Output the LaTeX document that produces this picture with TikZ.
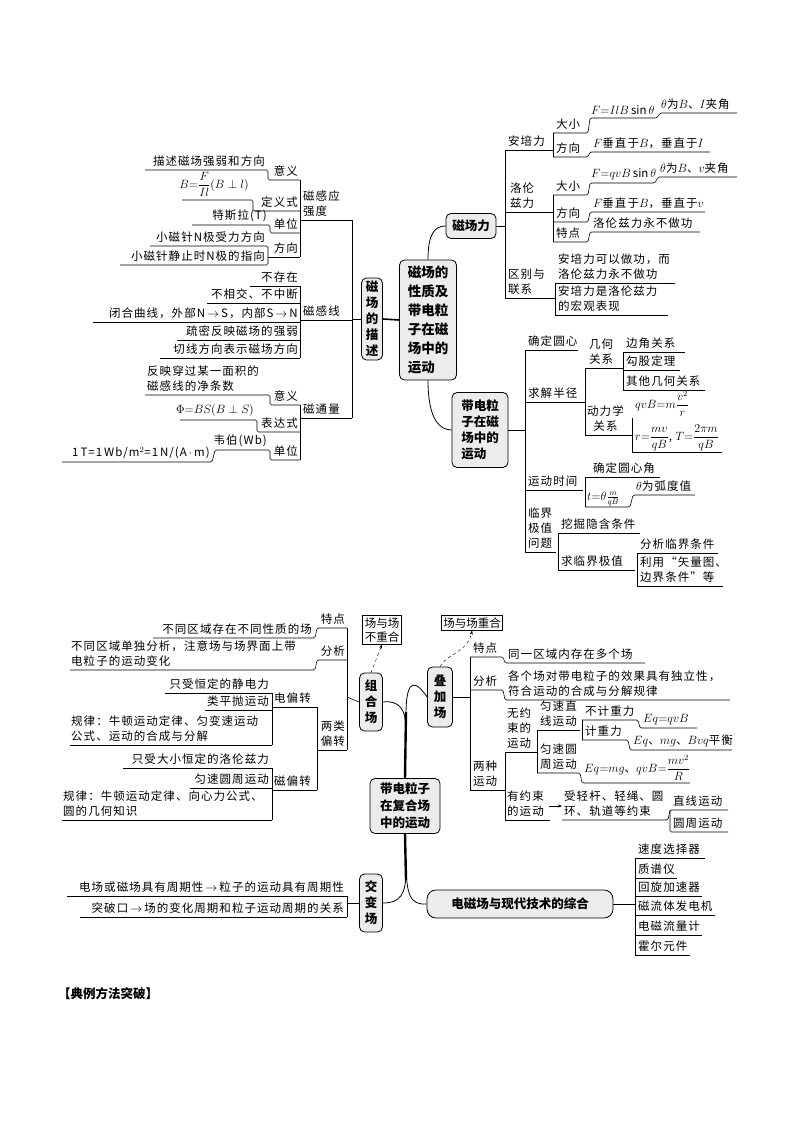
\documentclass[tikz,border=0pt]{standalone}
\usepackage{amsmath, amssymb}
\usepackage{fontspec}
\setmainfont{Noto Sans CJK SC}
\newfontfamily\lfont[LetterSpace=9]{Noto Sans CJK SC}
\usepackage{tikz}
\usetikzlibrary{calc,arrows.meta}

\begin{document}
\begin{tikzpicture}[x=1pt,y=-1pt,
  ln/.style={line width=0.6pt, rounded corners=1.5pt},
  lf/.style={inner sep=1pt, font=\lfont\fontsize{11.5}{15}\selectfont},
  lr/.style={lf, anchor=south east, align=right},
  ll/.style={lf, anchor=south west, align=left},
  box/.style={draw, rounded corners=5pt, fill=gray!15, line width=0.8pt, align=center,
    inner sep=2pt, font=\bfseries\fontsize{12.5}{16}\selectfont},
  plain/.style={draw, line width=0.6pt, align=center, inner sep=2pt, font=\fontsize{11.5}{14}\selectfont}]
\def\cLine{black}
\useasboundingbox (0,0) rectangle (794,1123);
\fill[white] (0,0) rectangle (794,1123);

% ---- main node and its two sides
\node[box, minimum width=57pt, minimum height=120pt, align=left, font=\bfseries\fontsize{13.5}{19}\selectfont] (main) at (428,320) {磁场的\\性质及\\带电粒\\子在磁\\场中的\\运动};
\node[box, minimum width=21pt, minimum height=82pt] (desc) at (372,319) {磁\\场\\的\\描\\述};
\node[box, minimum width=50pt, minimum height=25pt] (force) at (471,226) {磁场力};
\node[box, minimum width=56pt, minimum height=75pt, align=left] (move) at (480,430) {带电粒\\子在磁\\场中的\\运动};
\draw[line width=1.6pt] (desc.east) -- (main.west);
\draw[line width=0.8pt] (main.north) ++(0,0) .. controls (428,235) and (434,226) .. (force.west);
\draw[line width=0.8pt] (main.south) .. controls (428,420) and (440,430) .. (move.west);

% ---- magnetic field description (left)
\draw[ln] (desc.west) -- (352,319);
\draw[ln] (352,220) -- (352,418);
\draw[ln] (300,220) -- (352,220);
\draw[ln] (300,320) -- (352,320);
\draw[ln] (300,418) -- (352,418);
\node[ll, align=left] (bB) at (302,218) {磁感应\\强度};
\node[ll] (bL) at (302,318) {磁感线};
\node[ll] (bF) at (302,416) {磁通量};
% B
\draw[ln] (300,180) -- (300,257);
\draw[ln] (145,170) -- (268,170) -- (268,180) -- (300,180);
\node[lr] at (266,168) {描述磁场强弱和方向};
\node[lr] at (299,178) {意义};
\draw[ln] (182,200) -- (253,200) -- (253,211) -- (300,211);
\node[lr] at (250,198) {$B{=}\dfrac{F}{Il}(B\perp l)$};
\node[lr] at (299,209) {定义式};
\draw[ln] (192,225) -- (270,225) -- (270,233) -- (300,233);
\node[lr] at (268,223) {特斯拉(T)};
\node[lr] at (299,231) {单位};
\draw[ln] (150,246) -- (268,246) -- (268,265) -- (120,265);
\draw[ln] (268,257) -- (300,257);
\node[lr] at (266,244) {小磁针N极受力方向};
\node[lr] at (266,263) {小磁针静止时N极的指向};
\node[lr] at (299,255) {方向};
% lines
\draw[ln] (300,286) -- (300,358);
\draw[ln] (250,286) -- (300,286);
\node[lr] at (299,284) {不存在};
\draw[ln] (207,303) -- (300,303);
\node[lr] at (299,301) {不相交、不中断};
\draw[ln] (93,322) -- (300,322);
\node[lr] at (299,320) {闭合曲线，外部N$\,\to\,$S，内部S$\,\to\,$N};
\draw[ln] (177,340) -- (300,340);
\node[lr] at (299,338) {疏密反映磁场的强弱};
\draw[ln] (160,358) -- (300,358);
\node[lr] at (299,356) {切线方向表示磁场方向};
% flux
\draw[ln] (300,405) -- (300,460);
\draw[ln] (145,395) -- (270,395) -- (270,405) -- (300,405);
\node[ll] at (146,393) {反映穿过某一面积的\\磁感线的净条数};
\node[lr] at (299,403) {意义};
\draw[ln] (180,420) -- (257,420) -- (257,432) -- (300,432);
\node[lr] at (255,418) {$\Phi{=}BS(B\perp S)$};
\node[lr] at (299,430) {表达式};
\draw[ln] (62,462) -- (212,462) -- (215,450) -- (270,450) -- (270,460) -- (300,460);
\node[lr] at (268,448) {韦伯(Wb)};
\node[lr] at (211,460) {1\,T=1\,Wb/m$^2$=1\,N/(A$\,\cdot\,$m)};
\node[lr] at (299,458) {单位};

% ---- magnetic force (right top)
\draw[ln] (force.east) -- (505,226);
\draw[ln] (505,150) -- (505,298);
\draw[ln] (505,150) -- (553,150);
\node[ll] at (507,148) {安培力};
\draw[ln] (553,133) -- (553,157);
\draw[ln] (553,133) -- (588,133) -- (590,118) -- (657,118) -- (660,113) -- (737,113);
\node[ll] at (555,131) {大小};
\node[ll] at (590,116) {$F{=}IlB\sin\theta$};
\node[ll] at (660,111) {$\theta$为$B$、$I$夹角};
\draw[ln] (553,157) -- (588,157) -- (590,152) -- (710,152);
\node[ll] at (555,155) {方向};
\node[ll] at (592,150) {$F$垂直于$B$，垂直于$I$};
\draw[ln] (505,212) -- (553,212);
\node[ll, align=center] at (509,210) {洛伦\\兹力};
\draw[ln] (553,195) -- (553,242);
\draw[ln] (553,195) -- (588,195) -- (590,183) -- (655,183) -- (658,177) -- (737,177);
\node[ll] at (555,193) {大小};
\node[ll] at (590,181) {$F{=}qvB\sin\theta$};
\node[ll] at (659,175) {$\theta$为$B$、$v$夹角};
\draw[ln] (553,222) -- (588,222) -- (590,212) -- (705,212);
\node[ll] at (555,220) {方向};
\node[ll] at (592,210) {$F$垂直于$B$，垂直于$v$};
\draw[ln] (553,242) -- (588,242) -- (590,232) -- (700,232);
\node[ll] at (555,240) {特点};
\node[ll] at (592,230) {洛伦兹力永不做功};
\draw[ln] (505,298) -- (555,298);
\node[ll] at (507,296) {区别与\\联系};
\draw[ln] (555,283) -- (555,315);
\draw[ln] (555,283) -- (675,283);
\draw[ln] (555,315) -- (668,315);
\node[ll] at (557,281) {安培力可以做功，而\\洛伦兹力永不做功};
\node[ll] at (557,313) {安培力是洛伦兹力\\的宏观表现};

% ---- motion in field (right bottom)
\draw[ln] (move.east) -- (525,430);
\draw[ln] (525,350) -- (525,552);
\draw[ln] (525,350) -- (578,350);
\node[ll] at (527,348) {确定圆心};
\draw[ln] (525,402) -- (585,402);
\node[ll] at (527,400) {求解半径};
\draw[ln] (585,368) -- (585,435);
\draw[ln] (585,368) -- (623,368);
\node[ll, align=center] at (588,366) {几何\\关系};
\draw[ln] (623,352) -- (623,390);
\draw[ln] (623,352) -- (685,352);
\node[ll] at (625,350) {边角关系};
\draw[ln] (623,370) -- (680,370);
\node[ll] at (625,368) {勾股定理};
\draw[ln] (623,390) -- (705,390);
\node[ll] at (625,388) {其他几何关系};
\draw[ln] (585,435) -- (632,435);
\node[ll, align=center] at (586,433) {动力学\\关系};
\draw[ln] (632,418) -- (632,452);
\node[ll] at (634,418) {$qvB{=}m\dfrac{v^2}{r}$};
\draw[ln] (632,452) -- (722,452);
\node[ll] at (634,452) {$r{=}\dfrac{mv}{qB}$, $T{=}\dfrac{2\pi m}{qB}$};
\draw[ln] (525,490) -- (583,490);
\node[ll] at (527,488) {运动时间};
\draw[ln] (585,477) -- (585,507);
\draw[ln] (585,477) -- (660,477);
\node[ll] at (592,475) {确定圆心角};
\draw[ln] (585,507) -- (630,507) -- (633,495) -- (695,495);
\node[ll, inner sep=0pt] at (587,506) {$t{=}\theta\frac{m}{qB}$};
\node[ll] at (635,493) {$\theta$为弧度值};
\draw[ln] (525,552) -- (556,552);
\node[ll] at (527,550) {临界\\极值\\问题};
\draw[ln] (558,533) -- (558,570);
\draw[ln] (558,533) -- (640,533);
\node[ll] at (560,531) {挖掘隐含条件};
\draw[ln] (558,570) -- (635,570);
\node[ll] at (560,568) {求临界极值};
\draw[ln] (637,553) -- (637,586);
\draw[ln] (637,553) -- (718,553);
\node[ll] at (639,551) {分析临界条件};
\draw[ln] (637,586) -- (723,586);
\node[ll] at (639,584) {利用“矢量图、\\边界条件”等};

% ==== compound field (bottom)
\node[box, minimum width=70pt, minimum height=55pt, font=\bfseries\fontsize{12.5}{17}\selectfont] (comp) at (405,806) {带电粒子\\在复合场\\中的运动};
\node[box, minimum width=23pt, minimum height=58pt] (zuhe) at (371,702) {组\\合\\场};
\node[box, minimum width=23pt, minimum height=58pt] (jiaob) at (371,903) {交\\变\\场};
\node[box, minimum width=25pt, minimum height=60pt] (diej) at (440,697) {叠\\加\\场};
\node[box, minimum width=186pt, minimum height=28pt, rounded corners=9pt] (tech) at (520,904) {电磁场与现代技术的综合};
\node[plain] (bcf) at (382,630) {场与场\\不重合};
\node[plain] (cf) at (472,623) {场与场重合};
\draw[line width=2.4pt] (406,712) -- (comp.north);
\draw[line width=2.4pt] (comp.south) -- (406,880);
\draw[line width=0.8pt] (zuhe.east) .. controls (400,700) and (406,710) .. (406,730);
\draw[line width=0.8pt] (jiaob.east) .. controls (400,903) and (406,895) .. (406,870);
\draw[line width=0.8pt] (diej.west) .. controls (410,672) and (406,690) .. (406,715);
\draw[line width=0.8pt] (tech.west) .. controls (410,905) and (406,895) .. (406,860);
\draw[dashed, -{Stealth[length=4pt]}] (zuhe.north) -- (bcf.south);
\draw[dashed, -{Stealth[length=4pt]}] (diej.north) .. controls (445,655) and (468,652) .. (cf.south);

% zuhe
\draw[ln] (zuhe.west) -- (347,697);
\draw[ln] (347,628) -- (347,750);
\draw[ln] (153,638) -- (315,638) -- (317,628) -- (347,628);
\node[lr] at (313,636) {不同区域存在不同性质的场};
\node[lr] at (346,626) {特点};
\draw[ln] (70,670) -- (315,670) -- (317,660) -- (347,660);
\node[ll] at (70,668) {不同区域单独分析，注意场与场界面上带\\电粒子的运动变化};
\node[lr] at (346,658) {分析};
\draw[ln] (317,750) -- (347,750);
\node[lr, align=center] at (346,748) {两类\\偏转};
\draw[ln] (317,707) -- (317,790);
\draw[ln] (272,707) -- (317,707);
\node[ll] at (273,705) {电偏转};
\draw[ln] (272,693) -- (272,745);
\draw[ln] (165,693) -- (272,693);
\node[lr] at (270,691) {只受恒定的静电力};
\draw[ln] (205,710) -- (272,710);
\node[lr] at (270,708) {类平抛运动};
\draw[ln] (70,745) -- (272,745);
\node[ll] at (70,743) {规律：牛顿运动定律、匀变速运动\\公式、运动的合成与分解};
\draw[ln] (272,790) -- (317,790);
\node[ll] at (273,788) {磁偏转};
\draw[ln] (272,768) -- (272,820);
\draw[ln] (123,768) -- (272,768);
\node[lr] at (270,766) {只受大小恒定的洛伦兹力};
\draw[ln] (190,788) -- (272,788);
\node[lr] at (270,786) {匀速圆周运动};
\draw[ln] (62,820) -- (272,820);
\node[ll] at (62,818) {规律：牛顿运动定律、向心力公式、\\圆的几何知识};

% jiaob
\draw[ln] (jiaob.west) -- (347,903);
\draw[ln] (347,896) -- (347,917);
\draw[ln] (67,896) -- (347,896);
\node[lr] at (345,894) {电场或磁场具有周期性$\,\to\,$粒子的运动具有周期性};
\draw[ln] (80,917) -- (347,917);
\node[lr] at (345,915) {突破口$\,\to\,$场的变化周期和粒子运动周期的关系};

% diej
\draw[ln] (diej.east) -- (470,697);
\draw[ln] (470,657) -- (470,790);
\draw[ln] (470,657) -- (503,657) -- (505,663) -- (645,663);
\node[ll] at (472,655) {特点};
\node[ll] at (507,661) {同一区域内存在多个场};
\draw[ln] (470,690) -- (503,690) -- (505,700) -- (730,700);
\node[ll] at (472,688) {分析};
\node[ll] at (507,698) {各个场对带电粒子的效果具有独立性，\\符合运动的合成与分解规律};
\draw[ln] (470,790) -- (505,790);
\node[ll] at (472,788) {两种\\运动};
\draw[ln] (505,752) -- (505,820);
\draw[ln] (505,752) -- (537,752);
\node[ll, align=center] at (506,750) {无约\\束的\\运动};
\draw[ln] (537,730) -- (537,773);
\draw[ln] (537,730) -- (580,730);
\node[ll] at (539,728) {匀速直\\线运动};
\draw[ln] (582,720) -- (582,740);
\draw[ln] (582,720) -- (638,720) -- (640,728) -- (697,728);
\node[ll] at (584,718) {不计重力};
\node[ll] at (642,726) {$Eq{=}qvB$};
\draw[ln] (582,740) -- (628,740) -- (630,750) -- (732,750);
\node[ll] at (584,738) {计重力};
\node[ll] at (632,748) {$Eq$、$mg$、$Bvq$平衡};
\draw[ln] (537,773) -- (580,773) -- (582,783) -- (690,783);
\node[ll] at (539,771) {匀速圆\\周运动};
\node[ll] at (583,782) {$Eq{=}mg$、$qvB{=}\dfrac{mv^2}{R}$};
\draw[ln] (505,820) -- (550,820);
\node[ll] at (506,818) {有约束\\的运动};
\draw[-{Stealth[length=4pt]}] (549,806) -- (562,806);
\draw[ln] (562,820) -- (668,820) -- (670,810) -- (728,810);
\node[ll] at (563,818) {受轻杆、轻绳、圆\\环、轨道等约束};
\draw[ln] (670,810) -- (670,832) -- (728,832);
\node[ll] at (672,808) {直线运动};
\node[ll] at (672,830) {圆周运动};

% tech
\draw[ln] (tech.east) -- (635,904);
\draw[ln] (635,858) -- (635,955);
\draw[ln] (635,858) -- (705,858);
\node[ll] at (637,856) {速度选择器};
\draw[ln] (635,878) -- (677,878);
\node[ll] at (637,876) {质谱仪};
\draw[ln] (635,896) -- (702,896);
\node[ll] at (637,894) {回旋加速器};
\draw[ln] (635,915) -- (715,915);
\node[ll] at (637,913) {磁流体发电机};
\draw[ln] (635,935) -- (702,935);
\node[ll] at (637,933) {电磁流量计};
\draw[ln] (635,955) -- (690,955);
\node[ll] at (637,953) {霍尔元件};

\node[anchor=west, font=\bfseries\fontsize{12.5}{15}\selectfont, inner sep=0pt] (title) at (58,994) {【典例方法突破】};
\end{tikzpicture}
\end{document}
